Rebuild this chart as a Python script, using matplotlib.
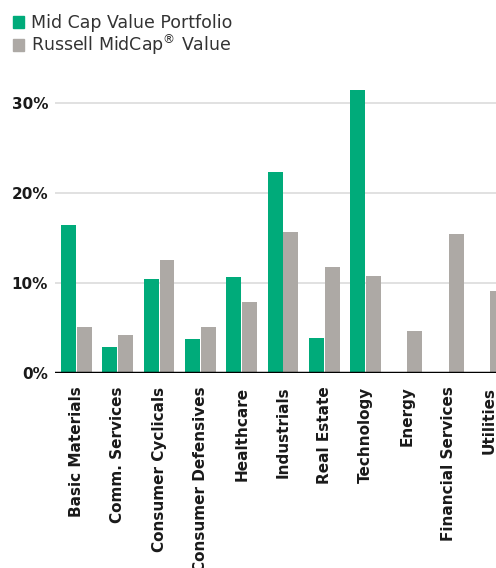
import numpy as np
import matplotlib.pyplot as plt
from matplotlib.patches import Patch
from matplotlib.ticker import FuncFormatter

# Sector weights (%)
sectors = ['Basic Materials', 'Comm. Services', 'Consumer Cyclicals', 'Consumer Defensives',
           'Healthcare', 'Industrials', 'Real Estate', 'Technology', 'Energy',
           'Financial Services', 'Utilities']
portfolio = [16.4, 2.9, 10.4, 3.7, 10.6, 22.3, 3.9, 31.4, 0.1, 0.1, 0.1]
benchmark = [5.1, 4.2, 12.5, 5.1, 7.9, 15.6, 11.8, 10.8, 4.6, 15.4, 9.1]
series_names = ['Mid Cap Value Portfolio', 'Russell MidCap$^{\u00ae}$ Value']

green = '#00ab7a'
grey = '#ada9a5'

fig = plt.figure(figsize=(4.96, 5.68), dpi=100)
W, H = 496, 568
# axes intentionally runs past the right edge, like the cropped original
ax = fig.add_axes([55 / W, (H - 372.7) / H, (511 - 55) / W, (372.7 - 76) / H])

x = np.arange(len(sectors))
bw = 0.36
ax.bar(x - bw / 2 - 0.012, portfolio, width=bw, color=green, zorder=3)
ax.bar(x + bw / 2 + 0.012, benchmark, width=bw, color=grey, zorder=3)

ax.set_xlim(-0.52, 10.52)
ax.set_ylim(0, 33)
ax.set_yticks([0, 10, 20, 30])
ax.yaxis.set_major_formatter(FuncFormatter(lambda v, p: f'{v:.0f}%'))
ax.grid(axis='y', color='#dcdcdc', linewidth=1.2, zorder=0)
ax.axhline(0, color='black', linewidth=2.5, zorder=4)
for s in ax.spines.values():
    s.set_visible(False)
ax.tick_params(axis='both', length=0)
ax.tick_params(axis='y', pad=5, labelsize=11, labelcolor='#1a1a1a')
ax.tick_params(axis='x', pad=10, labelsize=11, labelcolor='#1a1a1a')
for lbl in ax.get_yticklabels():
    lbl.set_fontweight('bold')
ax.set_xticks(x)
ax.set_xticklabels(sectors, rotation=90, fontweight='bold', va='top', ha='center')

handles = [Patch(color=green), Patch(color=grey)]
fig.legend(handles, series_names, loc='upper left', bbox_to_anchor=(13 / W, 1 - 14 / H),
           frameon=False, fontsize=12.5, handlelength=0.65, handleheight=0.65,
           handletextpad=0.4, labelspacing=0.03, borderpad=0, borderaxespad=0,
           labelcolor='#333333')

fig.savefig('out.png', dpi=100)
